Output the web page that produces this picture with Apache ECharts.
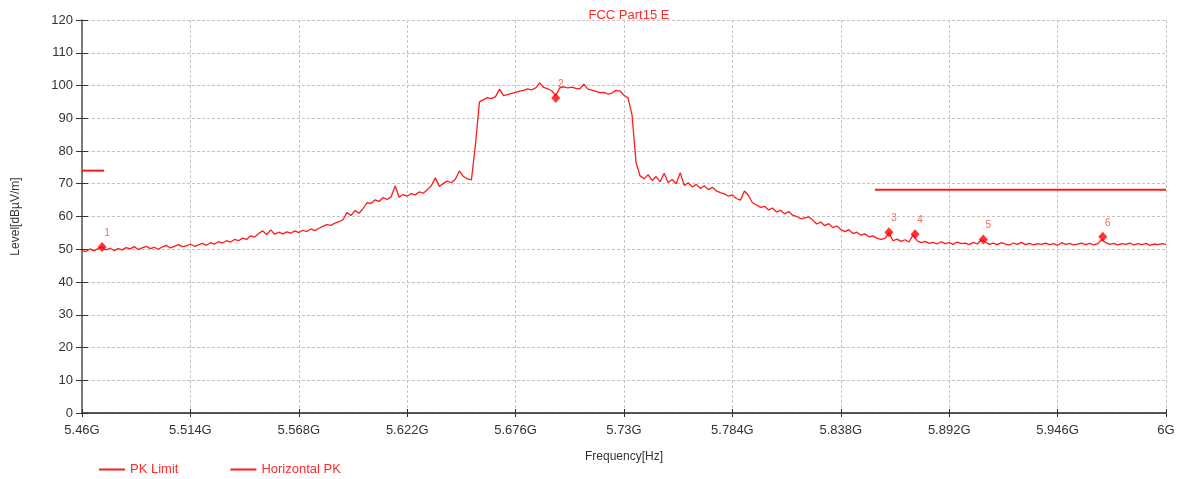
<!DOCTYPE html>
<html>
<head>
<meta charset="utf-8">
<script src="https://cdn.jsdelivr.net/npm/echarts@6/dist/echarts.min.js"></script>
<style>
html,body{margin:0;padding:0;background:#fff;}
#chart{width:1179px;height:479px;}
</style>
</head>
<body>
<div id="chart"></div>
<script>
// ---- data ----
const titleText = 'FCC Part15 E';
const freqStartMHz = 5460;
const freqStepMHz = 2;
const freqTicksMHz = [5460, 5514, 5568, 5622, 5676, 5730, 5784, 5838, 5892, 5946, 6000];
const levelTicks = [0, 10, 20, 30, 40, 50, 60, 70, 80, 90, 100, 110, 120];
// Horizontal PK trace, one value every 2 MHz from 5460 MHz to 6000 MHz (dBµV/m)
const horizontalPK = [
  49.6, 49.3, 50.1, 49.5, 50.2, 50.7, 49.8, 50.3, 49.6, 50.2,
  49.8, 50.5, 50.1, 50.8, 49.9, 50.4, 50.9, 50.2, 50.6, 50.0,
  50.7, 51.2, 50.4, 50.9, 51.4, 50.8, 51.0, 51.6, 50.9, 51.3,
  51.8, 51.2, 52.0, 51.6, 52.3, 51.9, 52.6, 52.2, 53.0, 52.6,
  53.4, 53.0, 54.1, 53.7, 54.8, 55.6, 54.5, 55.9, 54.6, 55.2,
  54.7, 55.3, 54.9, 55.6, 55.1, 55.8, 55.4, 56.2, 55.7, 56.4,
  57.0, 57.5, 57.3, 58.0, 58.4, 59.0, 61.2, 60.3, 61.8, 61.0,
  62.4, 64.2, 64.0, 65.1, 64.6, 65.8, 65.2, 66.0, 69.3, 65.9,
  66.7, 66.2, 67.0, 66.6, 67.5, 67.1, 68.2, 69.4, 71.8, 69.2,
  70.1, 70.8, 70.3, 71.4, 73.9, 72.2, 71.5, 71.2, 82.0, 95.0,
  95.7, 96.3, 96.0, 96.6, 98.9, 96.9, 97.2, 97.6, 97.9, 98.3,
  98.5, 99.0, 98.7, 99.3, 100.8, 99.4, 99.0, 98.4, 96.9, 99.3,
  99.6, 99.3, 99.5, 99.1, 99.0, 100.4, 98.9, 98.6, 98.2, 97.8,
  97.9, 97.4, 97.7, 98.5, 98.3, 97.0, 96.2, 91.0, 76.5, 72.4,
  71.5, 72.8, 71.0, 72.2, 70.6, 73.2, 70.4, 71.3, 70.0, 73.4,
  69.5, 70.3, 69.0, 69.8, 68.6, 69.4, 68.2, 68.9, 67.8, 67.3,
  66.9, 66.2, 66.6, 65.5, 65.0, 67.8, 66.4, 64.2, 63.5, 62.8,
  63.1, 62.0, 62.6, 61.4, 61.9, 60.8, 61.5, 60.4, 60.0, 59.3,
  59.6, 59.9, 58.9, 57.7, 58.3, 57.2, 57.8, 56.6, 57.1, 56.0,
  55.4, 56.0, 54.8, 55.2, 54.3, 54.7, 53.8, 54.1, 53.4, 53.0,
  53.3, 55.0, 52.6, 53.1, 52.4, 52.9, 52.2, 54.4, 52.6, 52.0,
  52.4, 51.8, 52.1, 51.6, 52.3, 51.7, 52.0, 51.5, 52.2, 51.7,
  51.9, 51.4, 52.1, 51.6, 52.9, 52.2, 51.5, 51.9, 51.4, 52.0,
  51.6, 51.3, 51.9, 51.5, 52.1, 51.4, 51.8, 51.3, 51.7, 51.5,
  51.9, 51.4, 51.7, 51.2, 52.0, 51.5, 51.8, 51.3, 51.6, 51.9,
  51.4, 51.8, 51.3, 51.7, 53.0, 52.0, 51.5, 51.8, 51.3, 51.7,
  51.5, 51.9, 51.3, 51.7, 51.4, 51.8, 51.2, 51.6, 51.4, 51.7,
  51.5
];
// PK Limit segments [MHz, dBµV/m]
const pkLimitLowFreq = [5460, 5471];
const pkLimitLowLevel = [74, 74];
const pkLimitHighFreq = [5855, 6000];
const pkLimitHighLevel = [68.2, 68.2];
// markers
const markerNames = ['1', '2', '3', '4', '5', '6'];
const markerFreq = [5470, 5696, 5862, 5875, 5909, 5968.5];
const markerLevel = [50.7, 96.2, 55.2, 54.6, 53.0, 53.8];

// ---- build ----
const toAxis = f => f - freqStartMHz;
const traceData = horizontalPK.map((v, i) => [toAxis(freqStartMHz + i * freqStepMHz), v]);
const limLow = pkLimitLowFreq.map((f, i) => [toAxis(f), pkLimitLowLevel[i]]);
const limHigh = pkLimitHighFreq.map((f, i) => [toAxis(f), pkLimitHighLevel[i]]);
const markerData = markerFreq.map((f, i) => ({ value: [toAxis(f), markerLevel[i]], name: markerNames[i] }));
const xMin = toAxis(freqTicksMHz[0]);
const xMax = toAxis(freqTicksMHz[freqTicksMHz.length - 1]);
const xInterval = freqTicksMHz[1] - freqTicksMHz[0];
const fmtFreq = v => {
  const g = Number(((v + freqStartMHz) / 1000).toFixed(3));
  return g + 'G';
};

const RED = '#ff1a1a';
const FONT = 'Liberation Sans, Arial, sans-serif';
const GRID_LINE = { show: true, lineStyle: { color: '#c4c4c4', type: [3, 2], width: 1 } };
const chart = echarts.init(document.getElementById('chart'));
chart.setOption({
  animation: false,
  backgroundColor: '#fff',
  title: {
    text: titleText,
    left: 624, textAlign: 'center', top: 4,
    textStyle: { color: '#ff2a2a', fontSize: 13, fontWeight: 'normal', fontFamily: FONT }
  },
  legend: {
    data: ['PK Limit', 'Horizontal PK'],
    left: 94, top: 458,
    icon: 'rect', itemWidth: 26, itemHeight: 2, itemGap: 52,
    textStyle: { color: '#ff2a2a', fontSize: 13, fontFamily: FONT }
  },
  grid: { left: 82, right: 13, top: 20, bottom: 66, containLabel: false },
  xAxis: [{
    type: 'value', min: xMin, max: xMax, interval: xInterval,
    name: 'Frequency[Hz]', nameLocation: 'middle', nameGap: 38,
    nameTextStyle: { color: '#333', fontSize: 12, fontFamily: FONT },
    axisLine: { show: true, onZero: false, lineStyle: { color: '#222', width: 1.5 } },
    axisTick: { show: true, length: 4, lineStyle: { color: '#333' } },
    axisLabel: { formatter: fmtFreq, color: '#333', fontSize: 13, margin: 11, fontFamily: FONT },
    splitLine: GRID_LINE
  }, {
    type: 'value', min: xMin, max: xMax, interval: xInterval, position: 'bottom',
    axisLine: { show: false }, axisLabel: { show: false }, splitLine: { show: false },
    axisTick: { show: true, inside: true, length: 4, lineStyle: { color: '#333' } }
  }],
  yAxis: [{
    type: 'value', min: levelTicks[0], max: levelTicks[levelTicks.length - 1], interval: levelTicks[1] - levelTicks[0],
    name: 'Level[dBµV/m]', nameLocation: 'middle', nameGap: 60,
    nameTextStyle: { color: '#333', fontSize: 12, fontFamily: FONT },
    axisLine: { show: true, onZero: false, lineStyle: { color: '#555', width: 1.5 } },
    axisTick: { show: true, length: 6, lineStyle: { color: '#333' } },
    axisLabel: { color: '#333', fontSize: 13, margin: 9, fontFamily: FONT },
    splitLine: GRID_LINE
  }, {
    type: 'value', min: levelTicks[0], max: levelTicks[levelTicks.length - 1], interval: levelTicks[1] - levelTicks[0], position: 'left',
    axisLine: { show: false }, axisLabel: { show: false }, splitLine: { show: false },
    axisTick: { show: true, inside: true, length: 6, lineStyle: { color: '#333' } }
  }],
  series: [
    {
      name: 'Horizontal PK', type: 'line', data: traceData, symbol: 'none',
      lineStyle: { color: RED, width: 1.3 }, itemStyle: { color: RED }, z: 3
    },
    {
      name: 'PK Limit', type: 'line', data: limLow, symbol: 'none',
      lineStyle: { color: RED, width: 2 }, itemStyle: { color: RED }, z: 4
    },
    {
      name: 'PK Limit', type: 'line', data: limHigh, symbol: 'none',
      lineStyle: { color: RED, width: 2 }, itemStyle: { color: RED }, z: 4
    },
    {
      name: 'Markers', type: 'scatter', data: markerData, symbol: 'diamond', symbolSize: [9, 10],
      itemStyle: { color: '#ff0000' }, z: 5,
      label: {
        show: true, formatter: p => p.name, position: 'top', offset: [5, 1],
        color: '#ff3a3a', fontSize: 10, fontFamily: FONT
      }
    }
  ]
});
</script>
</body>
</html>
